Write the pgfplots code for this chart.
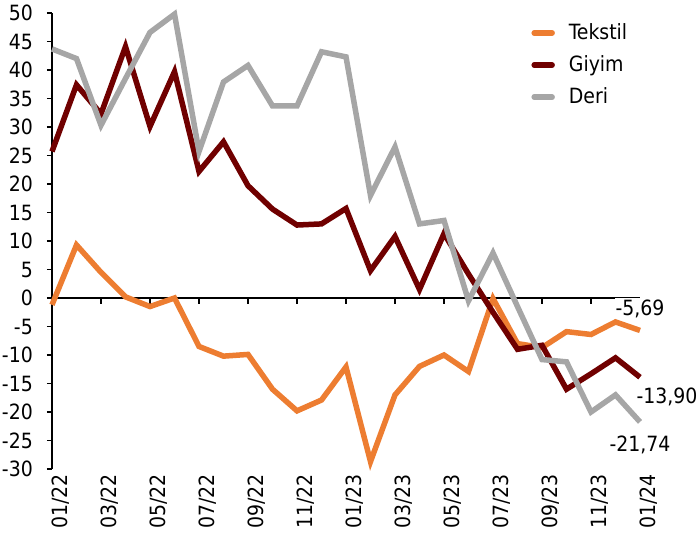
\documentclass[border=0pt]{standalone}
\usepackage{pgfplots}
\pgfplotsset{compat=1.18}
\usepackage{fontspec}
\setmainfont{DejaVu Sans Condensed}
\definecolor{ctekstil}{RGB}{237,125,49}
\definecolor{cgiyim}{RGB}{112,0,0}
\definecolor{cderi}{RGB}{166,166,166}
\begin{document}
\fontsize{21bp}{24bp}\selectfont
\begin{tikzpicture}
\useasboundingbox (-52bp,-73bp) rectangle (648bp,469bp);
\begin{axis}[
  at={(0,0)}, anchor=south west,
  scale only axis, width=588bp, height=456bp,
  xmin=0, xmax=24, ymin=-30, ymax=50,
  axis lines*=left,
  x axis line style={draw=none},
  y axis line style={black, line width=1.2bp},
  xtick={0,2,...,24},
  xticklabels={01/22,03/22,05/22,07/22,09/22,11/22,01/23,03/23,05/23,07/23,09/23,11/23,01/24},
  ytick={-30,-25,...,50},
  yticklabels={-30,-25,-20,-15,-10,-5,0,5,10,15,20,25,30,35,40,45,50},
  tick align=outside,
  major tick length=5bp,
  xtick style={draw=none},
  ytick style={black, line width=1.2bp},
  yticklabel style={anchor=east, inner sep=0pt, xshift=-14bp},
  xticklabel style={rotate=90, anchor=east, inner sep=0pt, yshift=-9bp},
  ticklabel style={font=\fontsize{21bp}{24bp}\selectfont},
  clip=false,
  legend style={at={(0.815,0.982)}, anchor=north west, draw=none, fill=none,
    font=\fontsize{21bp}{24bp}\selectfont, row sep=9bp, inner sep=0pt,
    /tikz/every odd column/.append style={column sep=12bp}},
  legend cell align=left,
  legend image code/.code={\draw[line width=5.5bp, line cap=round, #1] (3bp,0bp) -- (21bp,0bp);},
  every axis plot/.append style={line width=5.5bp, mark=none},
]
\addplot[black, line width=1.3bp, forget plot] coordinates {(0,0) (24,0)};
\addplot[ycomb, black, line width=1.3bp, forget plot] coordinates {
(2,-1.05) (4,-1.05) (6,-1.05) (8,-1.05) (10,-1.05) (12,-1.05)
(14,-1.05) (16,-1.05) (18,-1.05) (20,-1.05) (22,-1.05) (24,-1.05)};
\addplot[ctekstil] coordinates {
(0,-1.2) (1,9.3) (2,4.5) (3,0.2) (4,-1.5) (5,0.0) (6,-8.5) (7,-10.2) (8,-9.9)
(9,-16.0) (10,-19.8) (11,-17.9) (12,-12.1) (13,-28.7) (14,-17.0) (15,-12.0)
(16,-10.0) (17,-12.9) (18,-0.1) (19,-8.0) (20,-8.7) (21,-5.9) (22,-6.4) (23,-4.2) (24,-5.69)};
\addlegendentry{Tekstil}
\addplot[cgiyim] coordinates {
(0,25.7) (1,37.4) (2,32.3) (3,44.1) (4,30.1) (5,39.7) (6,22.2) (7,27.4) (8,19.7)
(9,15.6) (10,12.8) (11,13.0) (12,15.7) (13,4.8) (14,10.8) (15,1.5) (16,11.3)
(17,4.2) (18,-2.5) (19,-9.0) (20,-8.3) (21,-16.0) (22,-13.3) (23,-10.5) (24,-13.90)};
\addlegendentry{Giyim}
\addplot[cderi] coordinates {
(0,43.7) (1,42.0) (2,30.3) (3,38.5) (4,46.6) (5,49.8) (6,25.7) (7,37.9) (8,40.8)
(9,33.7) (10,33.7) (11,43.2) (12,42.3) (13,18.0) (14,26.5) (15,13.0) (16,13.6)
(17,-0.5) (18,7.9) (19,-1.5) (20,-10.8) (21,-11.2) (22,-20.0) (23,-17.0) (24,-21.74)};
\addlegendentry{Deri}
\node[fill=white, inner sep=1bp, yshift=22bp] at (axis cs:24,-5.69) {-5,69};
\node[inner sep=0pt, xshift=27bp, yshift=-20bp] at (axis cs:24,-13.90) {-13,90};
\node[inner sep=0pt, yshift=-23bp] at (axis cs:24,-21.74) {-21,74};
\end{axis}
\end{tikzpicture}
\end{document}
